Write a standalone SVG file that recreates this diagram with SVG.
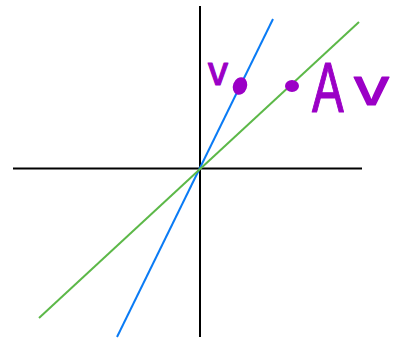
<svg xmlns="http://www.w3.org/2000/svg" width="401" height="339" viewBox="0 0 401 339">
  <style>
    .axis { stroke: #000; stroke-width: 2; fill: none; }
    .blue { stroke: #0A7BF5; stroke-width: 2; fill: none; }
    .green { stroke: #5CB848; stroke-width: 2; fill: none; }
    .ink { fill: #9B00C6; stroke: #9B00C6; stroke-width: 1.2; stroke-linejoin: round; font-family: "Liberation Sans", Arial, sans-serif; }
    .dot { fill: #9B00C6; }
  </style>
  <rect width="401" height="339" fill="#fff"/>
  <g id="axes">
    <line class="axis" x1="13" y1="168.5" x2="362" y2="168.5"/>
    <line class="axis" x1="200" y1="6" x2="200" y2="337"/>
  </g>
  <g id="lines">
    <line class="blue" x1="273" y1="19" x2="117" y2="337"/>
    <line class="green" x1="359" y1="22" x2="39" y2="318"/>
  </g>
  <g id="marks">
    <ellipse class="dot" cx="240" cy="86" rx="7" ry="9" transform="rotate(20 240 86)"/>
    <ellipse class="dot" cx="292" cy="86" rx="7" ry="6"/>
    <text class="ink" x="208" y="85" font-size="40" textLength="20" lengthAdjust="spacingAndGlyphs">v</text>
    <text class="ink" x="0" y="0" font-size="70" transform="translate(312 112) scale(0.68 1)">A</text>
    <text class="ink" x="0" y="0" font-size="52" transform="translate(354 105) scale(1.35 1)">v</text>
  </g>
</svg>
